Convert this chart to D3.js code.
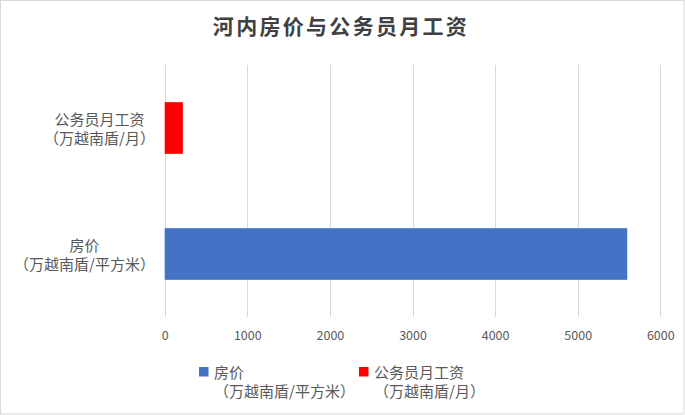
<!DOCTYPE html>
<html><head><meta charset="utf-8">
<script src="https://cdn.jsdelivr.net/npm/d3@7"></script>
<style>body{margin:0;background:#fff}svg{display:block}</style>
</head><body>
<script>
const title = "河内房价与公务员月工资";
const categories = ["公务员月工资", "房价"];
const units = ["（万越南盾/月）", "（万越南盾/平方米）"];
const values = [220, 5600];
const barColors = ["#FF0000", "#4472C4"];
const legendOrder = [1, 0];
const tickValues = [0, 1000, 2000, 3000, 4000, 5000, 6000];

const W = 685, H = 415;
const svg = d3.select("body").append("svg").attr("width", W).attr("height", H);
svg.append("rect").attr("x", 0.5).attr("y", 0.5).attr("width", W - 1.5).attr("height", H - 1.5)
  .attr("fill", "#fff").attr("stroke", "#d9d9d9");

const font = "'Noto Sans CJK SC', 'Noto Sans', sans-serif";
svg.append("text").attr("x", 341).attr("y", 25).attr("text-anchor", "middle")
  .attr("dominant-baseline", "central").attr("font-family", font).attr("font-size", 21)
  .attr("font-weight", 600).attr("fill", "#404040").attr("letter-spacing", 2.3).text(title);

const x = d3.scaleLinear().domain([0, 6000]).range([164.7, 660.3]);
const y = d3.scaleBand().domain(categories).range([65, 317]).paddingInner(0.59).paddingOuter(0.295);

const g = svg.append("g");
g.selectAll("line.grid").data(tickValues).join("line").attr("class", "grid")
  .attr("x1", d => Math.round(x(d)) + 0.5).attr("x2", d => Math.round(x(d)) + 0.5)
  .attr("y1", 65).attr("y2", 317).attr("stroke", "#d9d9d9").attr("stroke-width", 1);

g.selectAll("rect.bar").data(values).join("rect").attr("class", "bar")
  .attr("x", x(0)).attr("y", (d, i) => y(categories[i]))
  .attr("width", d => x(d) - x(0)).attr("height", y.bandwidth())
  .attr("fill", (d, i) => barColors[i]);

const axis = d3.axisBottom(x).tickValues(tickValues).tickFormat(d3.format("d")).tickSize(0).tickPadding(0);
const ax = svg.append("g").attr("transform", "translate(0,331)").call(axis);
ax.select(".domain").remove();
ax.selectAll("text").attr("font-family", font).attr("font-size", 12.5).attr("fill", "#595959");

// category labels
categories.forEach((c, i) => {
  const cy = y(c) + y.bandwidth() / 2;
  const mk = (txt, yy) => svg.append("text").attr("font-family", font).attr("font-size", 15)
    .attr("fill", "#595959").attr("text-anchor", "middle").attr("y", yy)
    .attr("dominant-baseline", "central").text(txt);
  const l1 = mk(c, cy - 9.5), l2 = mk(units[i], cy + 9.5);
  const w = Math.max(l1.node().getComputedTextLength(), l2.node().getComputedTextLength());
  const cx = 155 - w / 2;
  l1.attr("x", cx); l2.attr("x", cx);
});

// legend
const legX = [199, 359];
legendOrder.forEach((k, j) => {
  svg.append("rect").attr("x", legX[j]).attr("y", 367).attr("width", 9.5).attr("height", 9.5)
    .attr("fill", barColors[k]);
  svg.append("text").attr("font-family", font).attr("font-size", 15).attr("fill", "#595959")
    .attr("x", legX[j] + 15).attr("y", 371).attr("dominant-baseline", "central").text(categories[k]);
  svg.append("text").attr("font-family", font).attr("font-size", 15).attr("fill", "#595959")
    .attr("x", legX[j] + 15).attr("y", 390).attr("dominant-baseline", "central").text(units[k]);
});
</script>
</body></html>
